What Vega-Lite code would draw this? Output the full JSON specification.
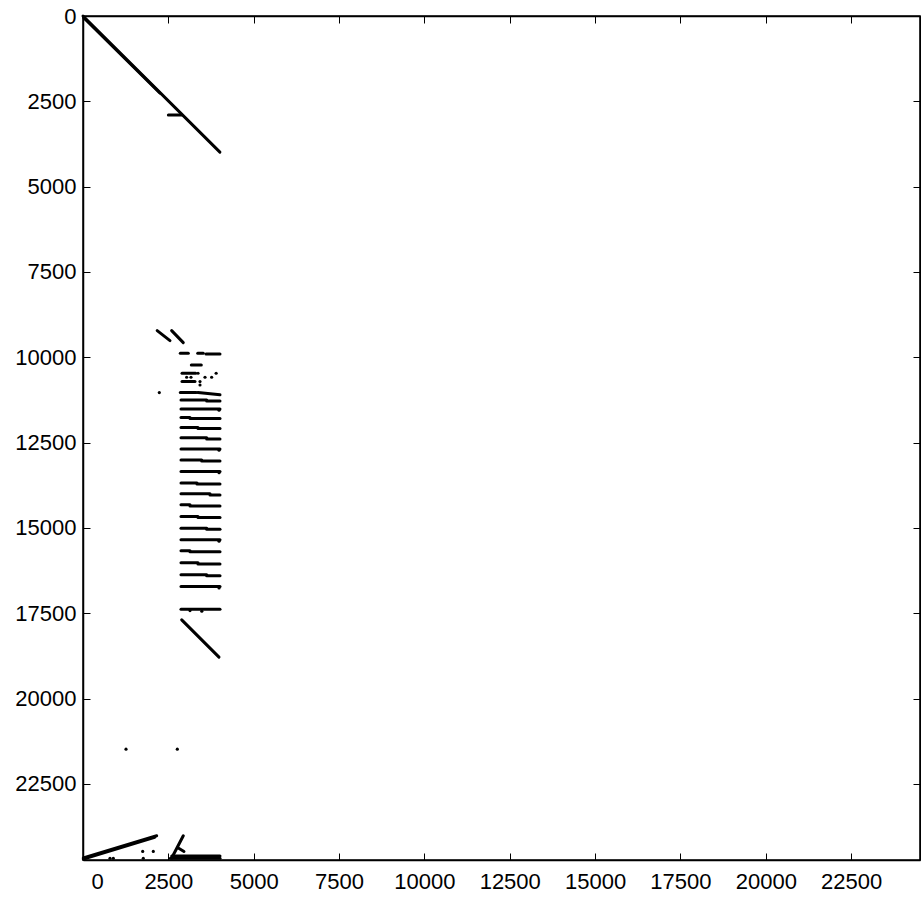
{
  "$schema": "https://vega.github.io/schema/vega-lite/v6.json",
  "width": 837,
  "height": 844,
  "autosize": {"type": "none"},
  "padding": {"left": 83, "top": 16, "right": 1, "bottom": 42},
  "background": "white",
  "config": {
    "view": {"stroke": "black", "strokeWidth": 1.5},
    "axis": {
      "grid": false,
      "title": null,
      "format": "d",
      "labelFont": "Liberation Sans",
      "labelFontSize": 22,
      "labelColor": "black",
      "tickColor": "black",
      "tickSize": -7,
      "tickWidth": 1,
      "domainColor": "black",
      "domainWidth": 1.5
    }
  },
  "datasets": {
    "segs": [
      {"c1": 0, "r1": 0, "c2": 4010, "r2": 3990},
      {"c1": 20, "r1": 50, "c2": 2250, "r2": 2255},
      {"c1": 2500, "r1": 2900, "c2": 2890, "r2": 2900},
      {"c1": 2173, "r1": 9218, "c2": 2548, "r2": 9511},
      {"c1": 2597, "r1": 9218, "c2": 2937, "r2": 9570},
      {"c1": 2850, "r1": 9880, "c2": 3085, "r2": 9880},
      {"c1": 3360, "r1": 9880, "c2": 3525, "r2": 9880},
      {"c1": 3603, "r1": 9900, "c2": 4013, "r2": 9900},
      {"c1": 3173, "r1": 10222, "c2": 3466, "r2": 10222},
      {"c1": 2900, "r1": 10466, "c2": 3300, "r2": 10466},
      {"c1": 2900, "r1": 10710, "c2": 3280, "r2": 10710},
      {"c1": 2850, "r1": 11033, "c2": 3320, "r2": 11033},
      {"c1": 3370, "r1": 11033, "c2": 4013, "r2": 11100},
      {"c1": 2870, "r1": 11247, "c2": 3623, "r2": 11247},
      {"c1": 3623, "r1": 11280, "c2": 4013, "r2": 11280},
      {"c1": 2870, "r1": 11511, "c2": 4013, "r2": 11511},
      {"c1": 2870, "r1": 11760, "c2": 3134, "r2": 11760},
      {"c1": 3134, "r1": 11790, "c2": 4013, "r2": 11790},
      {"c1": 2870, "r1": 12053, "c2": 3368, "r2": 12053},
      {"c1": 3368, "r1": 12083, "c2": 4013, "r2": 12083},
      {"c1": 2870, "r1": 12360, "c2": 3623, "r2": 12360},
      {"c1": 3623, "r1": 12390, "c2": 4013, "r2": 12390},
      {"c1": 2870, "r1": 12683, "c2": 4013, "r2": 12683},
      {"c1": 2870, "r1": 13005, "c2": 3477, "r2": 13005},
      {"c1": 3477, "r1": 13035, "c2": 4013, "r2": 13035},
      {"c1": 2870, "r1": 13342, "c2": 4013, "r2": 13342},
      {"c1": 2870, "r1": 13679, "c2": 3339, "r2": 13679},
      {"c1": 3339, "r1": 13709, "c2": 4013, "r2": 13709},
      {"c1": 2870, "r1": 14001, "c2": 3720, "r2": 14001},
      {"c1": 3720, "r1": 14031, "c2": 4013, "r2": 14031},
      {"c1": 2870, "r1": 14323, "c2": 3134, "r2": 14323},
      {"c1": 3134, "r1": 14353, "c2": 4013, "r2": 14353},
      {"c1": 2870, "r1": 14665, "c2": 3368, "r2": 14665},
      {"c1": 3368, "r1": 14695, "c2": 4013, "r2": 14695},
      {"c1": 2870, "r1": 15011, "c2": 3623, "r2": 15011},
      {"c1": 3623, "r1": 15041, "c2": 4013, "r2": 15041},
      {"c1": 2870, "r1": 15348, "c2": 4013, "r2": 15348},
      {"c1": 2870, "r1": 15670, "c2": 3134, "r2": 15670},
      {"c1": 3134, "r1": 15700, "c2": 4013, "r2": 15700},
      {"c1": 2870, "r1": 16022, "c2": 3368, "r2": 16022},
      {"c1": 3368, "r1": 16052, "c2": 4013, "r2": 16052},
      {"c1": 2870, "r1": 16373, "c2": 3623, "r2": 16373},
      {"c1": 3623, "r1": 16403, "c2": 4013, "r2": 16403},
      {"c1": 2870, "r1": 16716, "c2": 4013, "r2": 16716},
      {"c1": 2870, "r1": 17378, "c2": 4013, "r2": 17378},
      {"c1": 2891, "r1": 17691, "c2": 3983, "r2": 18784},
      {"c1": 9, "r1": 24671, "c2": 2158, "r2": 24018},
      {"c1": 9, "r1": 24700, "c2": 2100, "r2": 24060},
      {"c1": 2938, "r1": 24018, "c2": 2598, "r2": 24671},
      {"c1": 2791, "r1": 24377, "c2": 2958, "r2": 24477},
      {"c1": 2600, "r1": 24610, "c2": 4013, "r2": 24610},
      {"c1": 2560, "r1": 24680, "c2": 4013, "r2": 24680}
    ],
    "pts": [
      {"c": 3370, "r": 10466},
      {"c": 3900, "r": 10466},
      {"c": 3036, "r": 10585},
      {"c": 3163, "r": 10585},
      {"c": 3574, "r": 10585},
      {"c": 3768, "r": 10585},
      {"c": 3427, "r": 10710},
      {"c": 3427, "r": 10810},
      {"c": 2235, "r": 11033},
      {"c": 3985, "r": 11550},
      {"c": 3985, "r": 12720},
      {"c": 3985, "r": 13380},
      {"c": 3985, "r": 15390},
      {"c": 3985, "r": 16760},
      {"c": 3134, "r": 17420},
      {"c": 3480, "r": 17440},
      {"c": 1260, "r": 21480},
      {"c": 2762, "r": 21480},
      {"c": 791, "r": 24676},
      {"c": 888, "r": 24676},
      {"c": 1749, "r": 24477},
      {"c": 2059, "r": 24477},
      {"c": 1766, "r": 24676}
    ]
  },
  "resolve": {"axis": {"x": "independent", "y": "independent"}},
  "layer": [
    {
      "data": {"name": "segs"},
      "mark": {"type": "rule", "color": "black", "strokeWidth": 3, "strokeCap": "round"},
      "encoding": {
        "x": {
          "field": "c1", "type": "quantitative",
          "scale": {"domain": [0, 24517], "nice": false, "zero": false},
          "axis": {"orient": "bottom", "values": [0, 2500, 5000, 7500, 10000, 12500, 15000, 17500, 20000, 22500], "labelPadding": 18, "labelFlush": true, "labelFlushOffset": -8}
        },
        "x2": {"field": "c2"},
        "y": {
          "field": "r1", "type": "quantitative",
          "scale": {"domain": [0, 24728], "nice": false, "zero": false, "reverse": true},
          "axis": {"orient": "left", "values": [0, 2500, 5000, 7500, 10000, 12500, 15000, 17500, 20000, 22500], "labelPadding": 14}
        },
        "y2": {"field": "r2"}
      }
    },
    {
      "data": {"name": "pts"},
      "mark": {"type": "circle", "color": "black", "opacity": 1, "size": 10},
      "encoding": {
        "x": {
          "field": "c", "type": "quantitative",
          "axis": {"orient": "top", "labels": false, "values": [0, 2500, 5000, 7500, 10000, 12500, 15000, 17500, 20000, 22500]}
        },
        "y": {
          "field": "r", "type": "quantitative",
          "axis": {"orient": "right", "labels": false, "values": [0, 2500, 5000, 7500, 10000, 12500, 15000, 17500, 20000, 22500]}
        }
      }
    }
  ]
}
